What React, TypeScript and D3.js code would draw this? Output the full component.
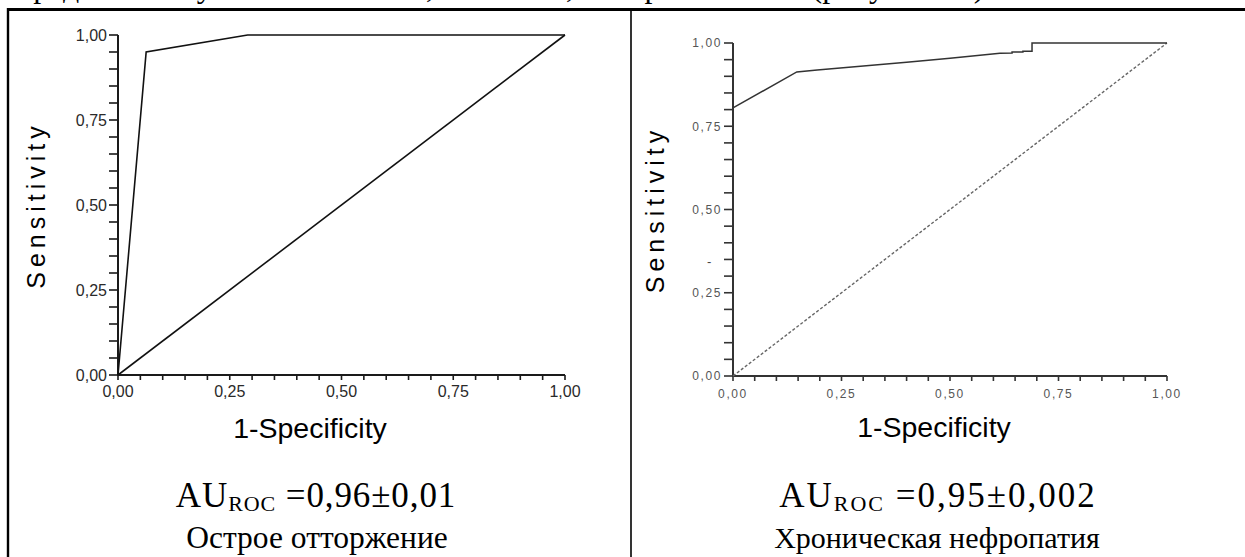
import React from "react";
import * as d3 from "d3";

// ---- data ----
const axisTicks = [0, 0.25, 0.5, 0.75, 1];
const tickLabels = ["0,00", "0,25", "0,50", "0,75", "1,00"];
const minorTicks = d3.range(0, 1.0001, 0.05);

const leftRocX = [0, 0.063, 0.29, 1];
const leftRocY = [0, 0.95, 1.0, 1.0];
const leftRefX = [0, 1];
const leftRefY = [0, 1];

const rightRocX = [0, 0.147, 0.194, 0.4, 0.5, 0.615, 0.643, 0.643, 0.668, 0.668, 0.689, 0.689, 1];
const rightRocY = [0.805, 0.913, 0.919, 0.942, 0.954, 0.969, 0.970, 0.973, 0.973, 0.975, 0.975, 1.0, 1.0];
const rightRefX = [0, 1];
const rightRefY = [0, 1];

const yTitle = "Sensitivity";
const xTitle = "1-Specificity";
const leftStat = "=0,96±0,01";
const rightStat = "=0,95±0,002";
const leftName = "Острое отторжение";
const rightName = "Хроническая нефропатия";

const SANS = "'Liberation Sans', Arial, sans-serif";
const SERIF = "'Liberation Serif', 'Times New Roman', serif";

type PanelProps = {
  x0: number; x1: number; y0: number; y1: number;
  rocX: number[]; rocY: number[]; refX: number[]; refY: number[];
  right: boolean; titleX: number; titleBaseY: number; yTitleX: number;
};

function Panel(p: PanelProps) {
  const x = d3.scaleLinear().domain([0, 1]).range([p.x0, p.x1]);
  const y = d3.scaleLinear().domain([0, 1]).range([p.y0, p.y1]);
  const mk = (xs: number[], ys: number[]) =>
    d3.line<number>().x((d) => x(d)).y((d, i) => y(ys[i]))(xs) as string;
  const axisColor = p.right ? "#333" : "#1a1a1a";
  const labelFill = p.right ? "#555" : "#2a2a2a";
  const labelSize = p.right ? 12 : 16;
  const ls = p.right ? 1.6 : 0;
  const tickLen = 9;
  return (
    <g>
      {minorTicks.map((t, i) => (
        <line key={"yt" + i} x1={p.x0 - tickLen} x2={p.x0} y1={y(t)} y2={y(t)} stroke={axisColor} strokeWidth={1.6} />
      ))}
      {minorTicks.map((t, i) => (
        <line key={"xt" + i} x1={x(t)} x2={x(t)} y1={p.y0} y2={p.y0 + 5} stroke={axisColor} strokeWidth={1.6} />
      ))}
      <line x1={p.x0} x2={p.x0} y1={p.y0 + 1} y2={p.y1} stroke={axisColor} strokeWidth={2} />
      <line x1={p.x0 - 1} x2={p.x1} y1={p.y0} y2={p.y0} stroke={axisColor} strokeWidth={2} />
      {axisTicks.map((t, i) => (
        <text key={"yl" + i} x={p.x0 - tickLen - 2} y={y(t)} dy="0.36em" textAnchor="end"
          fontFamily={SANS} fontSize={labelSize} fill={labelFill} letterSpacing={ls}>
          {tickLabels[i]}
        </text>
      ))}
      {axisTicks.map((t, i) => (
        <text key={"xl" + i} x={x(t)} y={p.y0 + 22} textAnchor="middle"
          fontFamily={SANS} fontSize={labelSize} fill={labelFill} letterSpacing={ls}>
          {tickLabels[i]}
        </text>
      ))}
      <path d={mk(p.refX, p.refY)} fill="none"
        stroke={p.right ? "#666" : "#111"} strokeWidth={p.right ? 1.4 : 1.6}
        strokeDasharray={p.right ? "3,2" : undefined} />
      <path d={mk(p.rocX, p.rocY)} fill="none" stroke={p.right ? "#333" : "#111"}
        strokeWidth={p.right ? 1.5 : 1.6} strokeLinejoin="miter" />
      <text x={p.titleX} y={p.titleBaseY} textAnchor="middle" fontFamily={SANS} fontSize={28.5} fill="#000">
        {xTitle}
      </text>
      <text transform={`translate(${p.yTitleX},${(p.y0 + p.y1) / 2}) rotate(-90)`} textAnchor="middle"
        fontFamily={SANS} fontSize={25} letterSpacing={5} fill="#000">
        {yTitle}
      </text>
    </g>
  );
}

export default function App() {
  return (
    <svg width={1245} height={557} style={{ position: "absolute", left: 0, top: 0, background: "#fff" }}>
      <rect x={0} y={0} width={1245} height={557} fill="#fff" />
      {/* cut-off line of text above the table: only descenders visible */}
      <text y={-3} fontFamily={SERIF} fontSize={32} fill="#000">
        определения чувствительности, точности, построены ROC (рисунок 14)
      </text>
      {/* table borders */}
      <line x1={7} x2={1245} y1={9.5} y2={9.5} stroke="#000" strokeWidth={3} />
      <line x1={8} x2={8} y1={8} y2={557} stroke="#000" strokeWidth={2.4} />
      <line x1={631} x2={631} y1={9} y2={557} stroke="#000" strokeWidth={1.6} />

      <Panel x0={118} x1={565} y0={375} y1={35} rocX={leftRocX} rocY={leftRocY}
        refX={leftRefX} refY={leftRefY} right={false} titleX={310} titleBaseY={438} yTitleX={45} />
      <Panel x0={733} x1={1167} y0={376} y1={43} rocX={rightRocX} rocY={rightRocY}
        refX={rightRefX} refY={rightRefY} right={true} titleX={934} titleBaseY={437} yTitleX={664} />
      <text x={707} y={266} fontFamily={SANS} fontSize={13} fill="#444">-</text>

      {/* captions */}
      <text x={316} y={507} textAnchor="middle" fontFamily={SERIF} fontSize={35} letterSpacing={0.9} fill="#000">
        AU<tspan fontSize={22} dy={4}>ROC</tspan><tspan dy={-4}> {leftStat}</tspan>
      </text>
      <text x={317} y={548} textAnchor="middle" fontFamily={SERIF} fontSize={31.5} fill="#000">{leftName}</text>
      <text x={938} y={507} textAnchor="middle" fontFamily={SERIF} fontSize={35} letterSpacing={2} fill="#000">
        AU<tspan fontSize={22} dy={4}>ROC</tspan><tspan dy={-4}> {rightStat}</tspan>
      </text>
      <text x={937} y={548} textAnchor="middle" fontFamily={SERIF} fontSize={30} fill="#000">{rightName}</text>
    </svg>
  );
}
